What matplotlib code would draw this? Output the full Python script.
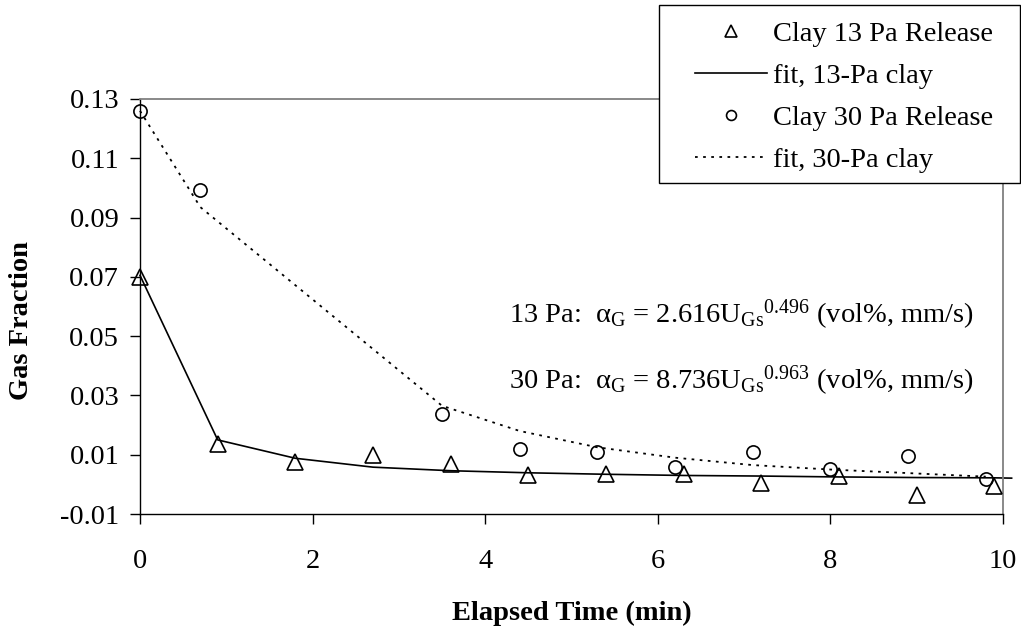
import matplotlib
matplotlib.use("Agg")
import matplotlib.pyplot as plt
from matplotlib.patches import Rectangle

plt.rcParams['font.family'] = ['Liberation Serif', 'DejaVu Serif']
plt.rcParams['mathtext.fontset'] = 'custom'
plt.rcParams['mathtext.rm'] = 'Liberation Serif'
plt.rcParams['mathtext.it'] = 'Liberation Serif:italic'
plt.rcParams['mathtext.bf'] = 'Liberation Serif:bold'
plt.rcParams['axes.unicode_minus'] = False

# ---- data ----
x13 = [0.0, 0.9, 1.8, 2.7, 3.6, 4.5, 5.4, 6.3, 7.2, 8.1, 9.0, 9.9]
y13 = [0.070, 0.0135, 0.0076, 0.0098, 0.0068, 0.0031, 0.0035, 0.0034, 0.0004, 0.0027, -0.0037, -0.0005]

fit13_x = [0.0, 0.9, 1.8, 2.7, 3.6, 4.5, 5.4, 6.3, 7.2, 8.1, 9.0, 9.9, 10.1]
fit13_y = [0.0705, 0.0150, 0.0088, 0.0058, 0.0046, 0.0039, 0.0034, 0.0030, 0.0028, 0.0025, 0.0023, 0.0022, 0.0021]

x30 = [0.0, 0.7, 3.5, 4.4, 5.3, 6.2, 7.1, 8.0, 8.9, 9.8]
y30 = [0.126, 0.0993, 0.0239, 0.0120, 0.0109, 0.0059, 0.0109, 0.0051, 0.0095, 0.0017]

fit30_x = [0.0, 0.7, 3.5, 4.4, 5.3, 6.2, 7.1, 8.0, 8.9, 9.8]
fit30_y = [0.126, 0.0935, 0.0265, 0.0180, 0.0125, 0.0090, 0.0065, 0.0050, 0.0038, 0.0026]

labels = ["Clay 13 Pa Release", "fit, 13-Pa clay", "Clay 30 Pa Release", "fit, 30-Pa clay"]
x_ticks = [0, 2, 4, 6, 8, 10]
y_ticks = [-0.01, 0.01, 0.03, 0.05, 0.07, 0.09, 0.11, 0.13]
ann13 = "13 Pa:  \u03b1$_{\\mathrm{G}}$ = 2.616U$_{\\mathrm{Gs}}$$^{0.496}$ (vol%, mm/s)"
ann30 = "30 Pa:  \u03b1$_{\\mathrm{G}}$ = 8.736U$_{\\mathrm{Gs}}$$^{0.963}$ (vol%, mm/s)"

W, H = 1021, 628
FS = 20.5

fig = plt.figure(figsize=(W / 100, H / 100), dpi=100)
ax = fig.add_axes([140 / W, 1 - 514 / H, 863 / W, 415 / H])

h1, = ax.plot(x13, y13, linestyle='none', marker='^', ms=11, mfc='none', mec='black', mew=1.2, clip_on=False, zorder=3)
h2, = ax.plot(fit13_x, fit13_y, color='black', lw=1.2, clip_on=False, zorder=2)
h3, = ax.plot(x30, y30, linestyle='none', marker='o', ms=9.5, mfc='none', mec='black', mew=1.2, clip_on=False, zorder=3)
h4, = ax.plot(fit30_x, fit30_y, color='black', lw=1.3, linestyle=(0, (1.5, 3)), clip_on=False, zorder=2)

ax.set_xlim(0, 10)
ax.set_ylim(-0.01, 0.13)
ax.set_xticks(x_ticks)
ax.set_xticklabels([str(t) for t in x_ticks])
ax.set_yticks(y_ticks)
ax.set_yticklabels(["%.2f" % t for t in y_ticks])
ax.tick_params(axis='both', direction='out', length=7, width=1, labelsize=FS, color='black')
ax.tick_params(axis='x', pad=18)
ax.tick_params(axis='y', pad=8)

for s in ['left', 'bottom']:
    ax.spines[s].set_color('black')
    ax.spines[s].set_linewidth(1.0)
for s in ['top', 'right']:
    ax.spines[s].set_color('#808080')
    ax.spines[s].set_linewidth(1.3)

fig.text(572 / W, 1 - 620 / H, "Elapsed Time (min)", ha='center', va='baseline', fontsize=FS, fontweight='bold')
fig.text(22 / W, 1 - 321 / H, "Gas Fraction", ha='center', va='center', rotation=90, fontsize=FS, fontweight='bold')

fig.text(509 / W, 1 - 323 / H, ann13, ha='left', va='baseline', fontsize=FS)
fig.text(509 / W, 1 - 389 / H, ann30, ha='left', va='baseline', fontsize=FS)

rect = Rectangle((659 / W, 1 - 183 / H), (1020 - 659) / W, (183 - 5) / H, transform=fig.transFigure,
                 facecolor='white', edgecolor='black', lw=1.0, zorder=4)
fig.add_artist(rect)

leg = fig.legend([h1, h2, h3, h4], labels, loc='upper left', bbox_to_anchor=(695 / W, 1 - 21 / H),
                 frameon=False, borderpad=0, borderaxespad=0, handlelength=72 / 28.5,
                 handletextpad=6 / 28.5, labelspacing=0.56, fontsize=FS, markerscale=0.75)
leg.set_zorder(5)

fig.savefig("out.png", dpi=100)
